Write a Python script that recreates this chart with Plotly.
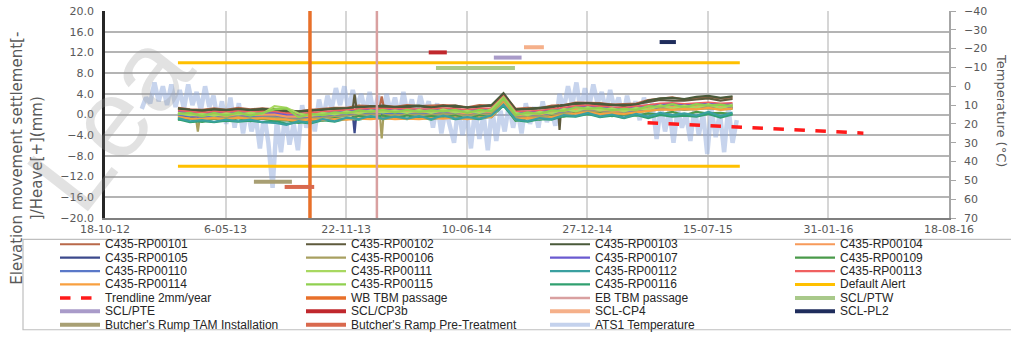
import plotly.graph_objects as go
import pandas as pd

# ------------------------------------------------------------------ data
sensor_names = ["C435-RP00101", "C435-RP00102", "C435-RP00103", "C435-RP00104",
                "C435-RP00105", "C435-RP00106", "C435-RP00107", "C435-RP00109",
                "C435-RP00110", "C435-RP00111", "C435-RP00112", "C435-RP00113",
                "C435-RP00114", "C435-RP00115", "C435-RP00116"]
sensor_colors = ["#b9694a", "#5e5a3c", "#4a5a3a", "#f79a5a",
                 "#3c4a8c", "#a8a060", "#6a5ad0", "#4a9a4a",
                 "#5a78c8", "#a8d860", "#3aa0a0", "#f06060",
                 "#f8a040", "#90d050", "#30a070"]
sensor_dates = pd.date_range("2013-02-16", periods=47, freq="20D")

rp101 = [1.3, 1.0, 0.9, 1.2, 0.9, 1.3, 1.0, 1.2, 1.0, 0.8,
         0.6, 0.9, 1.1, 1.3, 1.3, 1.7, 1.6, 1.7, 1.5, 1.8,
         1.6, 1.7, 1.8, 1.7, 1.4, 1.8, 1.7, 4.0, 1.1, 1.3,
         1.2, 1.7, 1.8, 2.3, 2.2, 2.2, 1.9, 2.0, 2.1, 2.8,
         3.0, 3.3, 2.9, 3.2, 3.4, 3.1, 3.3]
rp102 = [1.0, 0.9, 0.6, 1.0, 0.7, 1.1, 0.8, 0.9, 0.9, 0.5,
         0.5, 0.7, 1.0, 1.0, 1.2, 1.3, 1.6, 1.4, 1.5, 1.4,
         1.6, 1.3, 1.7, 1.4, 1.4, 1.5, 1.7, 3.8, 0.9, 1.0,
         1.2, 1.3, 1.8, 2.0, 2.2, 1.8, 1.9, 1.6, 2.0, 2.4,
         2.8, 2.7, 2.7, 2.9, 3.1, 2.7, 3.0]
rp103 = [1.2, 0.9, 0.8, 1.0, 0.9, 1.0, 0.9, 1.1, 0.9, 0.7,
         0.6, 0.8, 0.9, 1.2, 1.2, 1.5, 1.5, 1.7, 1.4, 1.6,
         1.7, 1.4, 1.6, 1.7, 1.3, 1.6, 1.8, 4.1, 1.0, 1.1,
         1.3, 1.4, 1.7, 2.2, 2.1, 2.1, 1.8, 1.9, 1.9, 2.7,
         3.1, 3.2, 3.0, 3.4, 3.6, 3.2, 3.5]
rp104 = [0.2, -0.1, -0.2, 0.0, -0.3, 0.1, -0.1, 0.0, 0.0, -0.4,
         -0.4, -0.2, 0.0, 0.1, 0.3, 0.4, 0.6, 0.5, 0.5, 0.5,
         0.6, 0.4, 0.7, 0.5, 0.2, 0.6, 0.5, 2.9, -0.2, 0.1,
         0.0, 0.5, 0.7, 1.1, 1.0, 1.0, 0.7, 0.8, 0.9, 1.2,
         1.6, 1.5, 1.5, 1.6, 1.8, 1.4, 1.7]
rp105 = [-0.2, -0.4, -0.6, -0.3, -0.6, -0.2, -0.5, -0.4, -0.3, -0.7,
         -0.8, -0.6, -0.4, -0.3, 0.0, 0.1, 0.2, 0.2, 0.1, 0.3,
         0.1, 0.2, 0.3, 0.2, 0.0, 0.2, 0.3, 2.6, -0.4, -0.3,
         -0.2, 0.1, 0.4, 0.7, 0.9, 0.6, 0.5, 0.4, 0.6, 0.9,
         1.2, 1.3, 1.1, 1.3, 1.4, 1.2, 1.3]
rp106 = [-0.4, -0.9, -0.8, -0.6, -0.7, -0.5, -0.7, -0.6, -0.6, -0.9,
         -1.0, -0.8, -0.6, -0.5, -0.3, -0.1, 0.0, -0.1, -0.1, 0.0,
         0.0, -0.1, 0.1, 0.0, -0.2, 0.0, 0.1, 2.4, -0.6, -0.5,
         -0.4, -0.1, 0.2, 0.5, 0.6, 0.4, 0.3, 0.2, 0.4, 0.7,
         1.0, 1.1, 0.9, 1.1, 1.2, 1.0, 1.1]
rp107 = [0.4, 0.2, 0.0, 0.2, 0.1, 0.3, 0.1, 0.2, 0.2, -0.1,
         -0.2, 0.0, 0.2, 0.3, 0.5, 0.7, 0.8, 0.8, 0.7, 0.8,
         0.8, 0.7, 0.9, 0.8, 0.6, 0.8, 0.9, 3.2, 0.2, 0.3,
         0.4, 0.7, 1.0, 1.3, 1.4, 1.2, 1.1, 1.0, 1.2, 1.5,
         1.8, 1.9, 1.7, 1.9, 2.0, 1.8, 1.9]
rp109 = [-1.0, -0.8, -1.4, -0.8, -1.3, -0.7, -1.3, -0.8, -1.2, -1.1,
         -1.6, -1.0, -1.2, -0.7, -0.9, -0.3, -0.6, -0.2, -0.7, -0.2,
         -0.6, -0.3, -0.5, -0.2, -0.8, -0.2, -0.5, 2.0, -1.2, -0.7,
         -1.0, -0.3, -0.4, 0.3, 0.0, 0.2, -0.3, 0.0, -0.2, 0.2,
         0.0, 0.5, -0.1, 0.5, 0.2, 0.3, 0.1]
rp110 = [-0.1, -0.3, -0.5, -0.3, -0.4, -0.2, -0.4, -0.3, -0.3, -0.6,
         -0.7, -0.5, -0.3, -0.2, 0.0, 0.2, 0.3, 0.3, 0.2, 0.3,
         0.3, 0.2, 0.4, 0.3, 0.1, 0.3, 0.4, 2.7, -0.3, -0.2,
         -0.1, 0.2, 0.5, 0.8, 0.9, 0.7, 0.6, 0.5, 0.7, 1.0,
         1.3, 1.4, 1.2, 1.4, 1.5, 1.3, 1.4]
rp111 = [0.3, -0.1, 0.1, -0.2, 0.2, 0.0, 0.3, 0.1, 1.6, 1.3,
         0.2, -0.2, 0.3, 0.0, 0.6, 0.2, 0.8, 0.4, 0.8, 0.3,
         0.9, 0.3, 1.0, 0.4, 0.7, 0.3, 1.0, 3.3, 0.3, -0.1,
         0.5, 0.2, 1.1, 0.6, 1.4, 0.8, 1.2, 0.6, 1.3, 0.9,
         1.8, 1.2, 1.7, 1.3, 2.0, 1.2, 1.9]
rp112 = [-0.7, -1.3, -1.1, -1.4, -1.0, -1.3, -1.0, -1.5, -1.6, -2.0,
         -1.3, -1.6, -0.9, -1.3, -0.6, -0.9, -0.3, -0.8, -0.4, -0.8,
         -0.3, -0.9, -0.2, -0.8, -0.5, -0.8, -0.2, 1.9, -0.9, -1.3,
         -0.7, -0.9, -0.1, -0.3, 0.3, -0.4, 0.0, -0.6, 0.1, -0.4,
         0.3, -0.1, 0.2, -0.2, 0.5, -0.3, 0.4]
rp113 = [0.7, 0.5, 0.3, 0.5, 0.4, 0.6, 0.4, 0.5, 0.5, 0.2,
         0.1, 0.3, 0.5, 0.6, 0.8, 1.0, 1.1, 1.1, 1.0, 1.1,
         1.1, 1.0, 1.2, 1.1, 0.9, 1.1, 1.2, 3.5, 0.5, 0.6,
         0.7, 1.0, 1.3, 1.6, 1.7, 1.5, 1.4, 1.3, 1.5, 1.8,
         2.1, 2.2, 2.0, 2.2, 2.3, 2.1, 2.2]
rp114 = [-0.5, -0.8, -0.9, -0.7, -1.0, -0.6, -0.9, -0.7, -0.9, -1.0,
         -1.3, -0.9, -1.1, -0.9, -1.0, -0.8, -0.9, -0.7, -0.9, -0.8,
         -0.9, -0.7, -0.8, -0.6, -0.9, -0.6, -0.5, 2.2, -0.9, -0.7,
         -0.8, -0.4, -0.1, 0.2, 0.4, 0.1, 0.2, 0.1, 0.4, 0.6,
         1.0, 0.9, 1.1, 1.0, 1.3, 0.9, 1.2]
rp115 = [0.1, 0.3, -0.3, 0.3, -0.2, 0.4, -0.2, 0.3, 1.0, 1.2,
         -0.5, 0.1, -0.1, 0.4, 0.2, 0.8, 0.5, 0.9, 0.4, 0.9,
         0.5, 0.8, 0.6, 0.9, 0.3, 0.9, 0.6, 3.1, -0.1, 0.4,
         0.1, 0.8, 0.7, 1.4, 1.1, 1.3, 0.8, 1.1, 0.9, 1.6,
         1.5, 2.0, 1.4, 2.0, 1.7, 1.9, 1.6]
rp116 = [-0.9, -1.5, -1.3, -1.5, -1.2, -1.4, -1.2, -1.5, -1.2, -1.8,
         -1.5, -1.7, -1.1, -1.4, -0.8, -1.0, -0.5, -0.9, -0.6, -0.9,
         -0.5, -1.0, -0.4, -0.9, -0.7, -0.9, -0.4, 1.7, -1.1, -1.4,
         -0.9, -1.0, -0.3, -0.4, 0.1, -0.5, -0.2, -0.7, -0.1, -0.7,
         -0.1, -0.4, -0.2, -0.4, 0.1, -0.6, 0.0]
sensor_values = [rp101, rp102, rp103, rp104, rp105, rp106, rp107, rp109,
                 rp110, rp111, rp112, rp113, rp114, rp115, rp116]

# short single-reading spikes seen in a few sensors
spike_sensor = ["C435-RP00106", "C435-RP00102", "C435-RP00105",
                "C435-RP00106", "C435-RP00101", "C435-RP00102"]
spike_dates = [["2013-03-18", "2013-03-21", "2013-03-24"],
               ["2013-12-03", "2013-12-06", "2013-12-09"],
               ["2013-12-03", "2013-12-06", "2013-12-09"],
               ["2014-01-17", "2014-01-20", "2014-01-23"],
               ["2014-01-17", "2014-01-20", "2014-01-23"],
               ["2014-11-08", "2014-11-11", "2014-11-14"]]
spike_values = [[-0.8, -3.3, -0.8],
                [1.2, 3.9, 1.3],
                [0.0, -3.6, 0.1],
                [0.0, -4.6, -0.1],
                [1.6, 3.5, 1.7],
                [1.7, -3.0, 1.8]]

temp_values = [
    12, 6, 9, -2, 8, 0, 10, -1, 11,
    2, 12, -1, 10, 3, 13, 0, 11,
    5, 18, 8, 20, 6,
    22, 9, 25, 12, 24,
    16, 33, 15, 30, 54,
    18, 35, 15, 31, 20, 34,
    10, 22, 12, 24,
    7, 17, 5,
    12, 1, 10, 0, 13, 2, 11, 4, 14,
    3, 15, 5, 17, 4, 14, 6, 16, 3, 15, 7, 17, 5, 14, 8,
    22, 9, 25, 12, 20,
    30, 11, 26, 14, 33, 12, 28, 15, 34, 11, 29, 13,
    24, 10, 22, 12, 25,
    9, 20, 11, 22, 8, 19, 12, 21,
    4, 12, 0, 10, -2, 13, 1, 11, -1, 9, 3, 13, 2, 12,
    6, 17, 5, 15, 8, 18, 6, 16, 9,
    28, 11, 24, 13, 30, 12, 22, 15, 29, 11, 26, 14,
    36, 12, 27, 14, 35, 11, 30, 18,
]
temp_dates = pd.date_range("2012-12-18", periods=len(temp_values), freq="7D")

alert_dates = ["2013-02-16", "2015-09-06"]
alert_levels = [10, -10]
trend_dates = ["2015-04-06", "2016-03-29"]
trend_values = [-1.6, -3.6]
wb_tbm_date = "2013-09-23"
eb_tbm_date = "2014-01-12"

activity_names = ["SCL/PTW", "SCL/PTE", "SCL/CP3b", "SCL-CP4", "SCL-PL2",
                  "Butcher's Rump TAM Installation", "Butcher's Ramp Pre-Treatment"]
activity_starts = ["2014-04-20", "2014-07-25", "2014-04-08", "2014-09-13", "2015-04-26",
                   "2013-06-22", "2013-08-12"]
activity_ends = ["2014-08-29", "2014-09-09", "2014-05-08", "2014-10-16", "2015-05-23",
                 "2013-08-24", "2013-09-30"]
activity_levels = [9, 11, 12, 13, 14, -13, -14]
activity_colors = ["#a9c98a", "#a99bc9", "#c0282d", "#f5b08a", "#1f2d5c",
                   "#a89f73", "#d9694e"]

x_ticks_start = "2012-10-18"
x_range = ["2012-10-18", "2016-08-18"]
tick_step_days = 200

# drawing order of the sensors (teal / green on top, as in the original)
draw_order = ["C435-RP00101", "C435-RP00102", "C435-RP00103", "C435-RP00113",
              "C435-RP00107", "C435-RP00105", "C435-RP00110", "C435-RP00104",
              "C435-RP00106", "C435-RP00109", "C435-RP00111", "C435-RP00115",
              "C435-RP00116", "C435-RP00114", "C435-RP00112"]

# ------------------------------------------------------------------ figure
fig = go.Figure()

# temperature on the primary (right-hand, reversed) axis -> drawn underneath
fig.add_trace(go.Scatter(x=temp_dates, y=temp_values, mode="lines", name="ATS1 Temperature",
                         line=dict(color="rgba(143,170,220,0.5)", width=4.5), yaxis="y"))

sensor_lookup = {n: (c, v) for n, c, v in zip(sensor_names, sensor_colors, sensor_values)}
for name in draw_order:
    color, vals = sensor_lookup[name]
    s = pd.Series(vals, index=sensor_dates)
    for sn, sd, sv in zip(spike_sensor, spike_dates, spike_values):
        if sn == name:
            s = pd.concat([s, pd.Series(sv, index=pd.to_datetime(sd))])
    s = s.sort_index()
    fig.add_trace(go.Scatter(x=s.index, y=s.values, mode="lines", name=name,
                             line=dict(color=color, width=2.2), yaxis="y2"))

fig.add_trace(go.Scatter(x=alert_dates + [None] + alert_dates,
                         y=[alert_levels[0]] * 2 + [None] + [alert_levels[1]] * 2,
                         mode="lines", name="Default Alert",
                         line=dict(color="#ffc000", width=3), yaxis="y2"))
fig.add_trace(go.Scatter(x=trend_dates, y=trend_values, mode="lines", name="Trendline 2mm/year",
                         line=dict(color="#ff1a1a", width=3.5, dash="dash"), yaxis="y2"))
fig.add_trace(go.Scatter(x=[wb_tbm_date, wb_tbm_date], y=[-20, 20], mode="lines",
                         name="WB TBM passage", line=dict(color="#e8702a", width=3.5), yaxis="y2"))
fig.add_trace(go.Scatter(x=[eb_tbm_date, eb_tbm_date], y=[-20, 20], mode="lines",
                         name="EB TBM passage", line=dict(color="#d9a0a0", width=2.5), yaxis="y2"))
for n, s0, e0, lv, c in zip(activity_names, activity_starts, activity_ends,
                            activity_levels, activity_colors):
    fig.add_trace(go.Scatter(x=[s0, e0], y=[lv, lv], mode="lines", name=n,
                             line=dict(color=c, width=4), yaxis="y2"))

for tr in fig.data:
    tr.showlegend = False

# ------------------------------------------------------------------ layout helpers
W, H = 1011, 337
PL, PR, PT, PB = 105, 949, 5, 218


def xp(px):
    return (px - PL) / (PR - PL)


def yp(py):
    return (PB - py) / (PB - PT)


grey_txt = "#595959"
tick_font = dict(family="DejaVu Sans", size=11, color=grey_txt)

fig.update_layout(
    width=W, height=H,
    margin=dict(l=PL, r=W - PR, t=PT, b=H - PB),
    paper_bgcolor="white", plot_bgcolor="white",
    showlegend=False,
    xaxis=dict(type="date", range=x_range, tick0=x_ticks_start,
               dtick=tick_step_days * 86400000, tickformat="%-d-%m-%y",
               showgrid=True, gridcolor="#d6d6d6", gridwidth=1.5,
               showline=True, linecolor="#7f7f7f", linewidth=2,
               ticks="", tickfont=tick_font, zeroline=False,
               ticklabeloverflow="allow"),
    yaxis=dict(side="right", range=[70, -40], dtick=10, tick0=-40,
               showgrid=False, zeroline=False,
               showline=True, linecolor="#a6a6a6", linewidth=1.5,
               ticks="outside", ticklen=5, tickcolor="#a6a6a6",
               ticklabelstandoff=6, tickfont=tick_font, ticklabeloverflow="allow"),
    yaxis2=dict(side="left", overlaying="y", range=[-20, 20], dtick=4, tick0=-20,
                tickformat=".1f", showgrid=True, gridcolor="#b4b4b4", gridwidth=1.5,
                zeroline=False, showline=True, linecolor="#262626", linewidth=2.5,
                ticks="", ticklabelstandoff=6, tickfont=tick_font,
                ticklabeloverflow="allow"),
)

annotations = []
shapes = []

# axis titles
annotations.append(dict(text="Elevation movement settlement[-<br>]/Heave[+](mm)",
                        xref="paper", yref="paper", x=xp(27), y=yp(157),
                        xanchor="center", yanchor="middle", textangle=-90,
                        showarrow=False, align="center",
                        font=dict(family="DejaVu Sans", size=15, color=grey_txt)))
annotations.append(dict(text="Temperature (°C)", xref="paper", yref="paper",
                        x=xp(1002), y=yp(108), xanchor="center", yanchor="middle",
                        textangle=90, showarrow=False,
                        font=dict(family="DejaVu Sans", size=13, color=grey_txt)))

# legend box (4 columns, row-major, like the original)
legend_order = (sensor_names +
                ["Default Alert", "Trendline 2mm/year", "WB TBM passage", "EB TBM passage",
                 "SCL/PTW", "SCL/PTE", "SCL/CP3b", "SCL-CP4", "SCL-PL2",
                 "Butcher's Rump TAM Installation", "Butcher's Ramp Pre-Treatment",
                 "ATS1 Temperature"])
by_name = {tr.name: tr for tr in fig.data}
col_px = [60, 306, 550, 795]
row0, row_pitch = 245, 13.8
shapes.append(dict(type="rect", xref="paper", yref="paper",
                   x0=xp(23), x1=xp(1016), y0=yp(240), y1=yp(333),
                   line=dict(color="#bfbfbf", width=1.2), fillcolor="rgba(0,0,0,0)"))
for i, name in enumerate(legend_order):
    tr = by_name[name]
    r, c = divmod(i, 4)
    cy = row0 + r * row_pitch
    x0 = col_px[c]
    lw = tr.line.width
    col = tr.line.color
    if name == "ATS1 Temperature":
        col = "rgba(190,205,235,0.9)"
        lw = 4
    if name in sensor_names:
        lw = 2.2
    shapes.append(dict(type="line", xref="paper", yref="paper",
                       x0=xp(x0), x1=xp(x0 + 40), y0=yp(cy), y1=yp(cy),
                       line=dict(color=col, width=lw, dash=tr.line.dash or "solid")))
    annotations.append(dict(text=name, xref="paper", yref="paper",
                            x=xp(x0 + 43), y=yp(cy), xanchor="left", yanchor="middle",
                            showarrow=False,
                            font=dict(family="Arial", size=12, color="#262626")))

# faint watermark seen on the source image (kept fully inside the picture)
annotations.append(dict(text="Lea", xref="paper", yref="paper", x=xp(110), y=yp(118),
                        xanchor="center", yanchor="middle", textangle=-52,
                        showarrow=False,
                        font=dict(family="Arial", size=112, color="rgba(150,150,150,0.28)")))

fig.update_layout(annotations=annotations, shapes=shapes)

fig.write_html("out.html", config={"displayModeBar": False},
               post_script="document.body.style.margin='0px';")
